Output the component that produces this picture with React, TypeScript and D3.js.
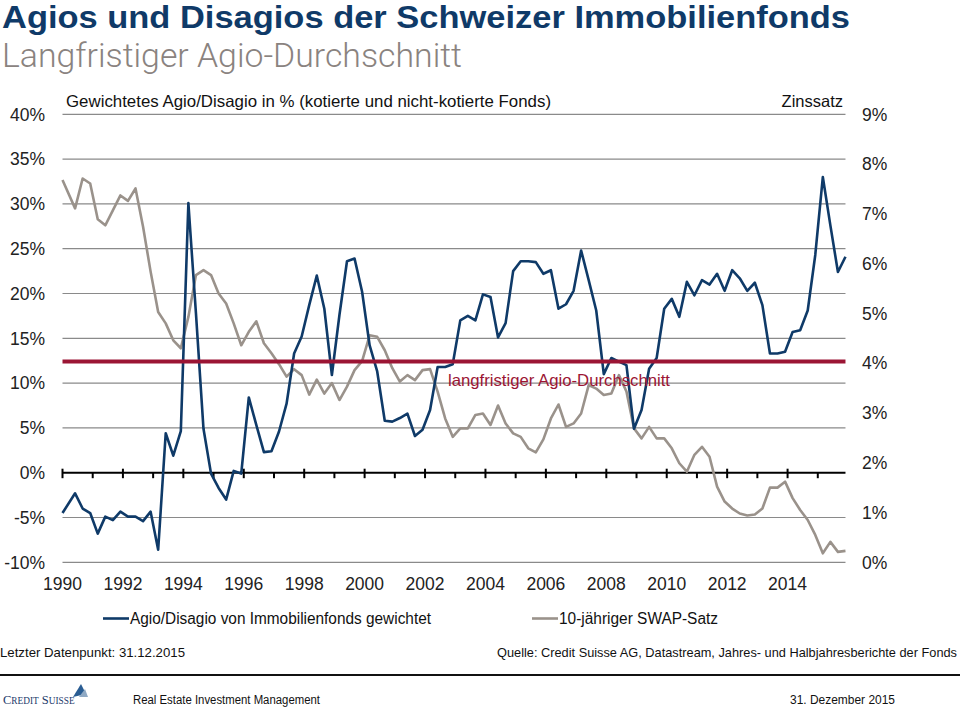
import React from "react";
import * as d3 from "d3";

// Weighted agio/disagio of Swiss real estate funds (% , left axis), quarterly
const agio: number[] = [
  -4.5, -2.3, -4.0, -4.5, -6.8, -4.9, -5.3, -4.35, -4.9, -4.9,
  -5.4, -4.35, -8.6, 4.4, 1.9, 4.65, 30.1, 17.8, 4.9, -0.1,
  -1.7, -3.0, 0.2, -0.1, 8.4, 5.3, 2.3, 2.4, 4.6, 7.7,
  13.3, 15.2, 18.7, 22.0, 18.3, 10.9, 17.6, 23.6, 23.9, 20.2,
  14.2, 11.3, 5.8, 5.7, 6.1, 6.6, 4.1, 4.8, 7.0, 11.8,
  11.8, 12.1, 17.0, 17.5, 17.0, 19.9, 19.6, 15.1, 16.7, 22.5,
  23.6, 23.6, 23.5, 22.2, 22.6, 18.3, 18.8, 20.3, 24.8, 21.5,
  18.1, 11.0, 12.8, 12.4, 12.0, 4.9, 7.0, 11.6, 12.8, 18.3,
  19.4, 17.4, 21.3, 19.8, 21.5, 21.0, 22.2, 20.3, 22.6, 21.7,
  20.3, 21.2, 18.7, 13.3, 13.3, 13.5, 15.7, 15.9, 18.1, 24.3,
  33.0, 27.6, 22.4, 24.1,
];

// 10-year CHF swap rate (% , right axis), quarterly
const swap: number[] = [
  7.68, 7.11, 7.71, 7.61, 6.89, 6.77, 7.07, 7.37, 7.26, 7.51,
  6.74, 5.84, 5.03, 4.80, 4.46, 4.30, 4.93, 5.77, 5.87, 5.77,
  5.40, 5.20, 4.80, 4.36, 4.63, 4.84, 4.40, 4.20, 3.98, 3.73,
  3.88, 3.76, 3.37, 3.67, 3.39, 3.60, 3.26, 3.53, 3.86, 4.04,
  4.56, 4.53, 4.26, 3.90, 3.63, 3.76, 3.66, 3.86, 3.88, 3.43,
  2.89, 2.52, 2.69, 2.69, 2.96, 2.99, 2.76, 3.15, 2.79, 2.59,
  2.52, 2.29, 2.21, 2.47, 2.89, 3.17, 2.72, 2.79, 2.99, 3.56,
  3.49, 3.36, 3.39, 3.76, 3.43, 2.69, 2.49, 2.72, 2.49, 2.49,
  2.29, 1.99, 1.82, 2.16, 2.32, 2.12, 1.52, 1.22, 1.08, 0.98,
  0.94, 0.96, 1.08, 1.50, 1.50, 1.62, 1.29, 1.05, 0.85, 0.55,
  0.18, 0.41, 0.21, 0.23,
];

const longTermAverage = 12.4;

const leftTicks: number[] = [-10, -5, 0, 5, 10, 15, 20, 25, 30, 35, 40];
const rightTicks: number[] = [0, 1, 2, 3, 4, 5, 6, 7, 8, 9];
const yearTicks: number[] = d3.range(1990, 2016);
const yearLabels: number[] = [1990, 1992, 1994, 1996, 1998, 2000, 2002, 2004, 2006, 2008, 2010, 2012, 2014];

const title = "Agios und Disagios der Schweizer Immobilienfonds";
const subtitle = "Langfristiger Agio-Durchschnitt";
const leftHeader = "Gewichtetes Agio/Disagio in % (kotierte und nicht-kotierte Fonds)";
const rightHeader = "Zinssatz";
const avgLabel = "langfristiger Agio-Durchschnitt";
const legendAgio = "Agio/Disagio von Immobilienfonds gewichtet";
const legendSwap = "10-jähriger SWAP-Satz";
const lastPoint = "Letzter Datenpunkt: 31.12.2015";
const source = "Quelle: Credit Suisse AG, Datastream, Jahres- und Halbjahresberichte der Fonds";
const footerMid = "Real Estate Investment Management";
const footerDate = "31. Dezember 2015";

// dates of observations (first at start of 1990, then quarterly)
const dates: number[] = agio.map((_, i) => (i === 0 ? 1990 : 1990 + 1 / 6 + 0.25 * i));

const NAVY = "#0f3a68";
const GRAY = "#9a928b";
const RED = "#9b1534";
const FONT = "'Liberation Sans', Arial, Helvetica, sans-serif";
const FIT = "spacingAndGlyphs";

export default function App() {
  const x = d3.scaleLinear().domain([1990, 2016]).range([62.5, 848]);
  const yL = d3.scaleLinear().domain([-10, 40]).range([562.3, 114.3]);
  const yR = d3.scaleLinear().domain([0, 9]).range([562.3, 114.3]);
  const x0 = x(1990);
  const x1 = x(dates[dates.length - 1]);

  const agioLine = d3
    .line<number>()
    .x((_, i) => x(dates[i]))
    .y((d) => yL(d));
  const swapLine = d3
    .line<number>()
    .x((_, i) => x(dates[i]))
    .y((d) => yR(d));

  return (
    <svg
      width={960}
      height={709}
      style={{ position: "absolute", left: 0, top: 0, background: "#fff" }}
      fontFamily={FONT}
    >
      <rect width={960} height={709} fill="#fff" />
      {/* Titles */}
      <text x={2} y={28} fontSize={31} fontWeight="bold" fill={NAVY} textLength={848} lengthAdjust={FIT}>
        {title}
      </text>
      <text
        x={2}
        y={67}
        fontSize={33}
        fill="#8a837f"
        fontFamily="Roboto, 'Liberation Sans', sans-serif"
        fontWeight={300}
        textLength={460}
        lengthAdjust={FIT}
      >
        {subtitle}
      </text>

      {/* Header texts */}
      <text x={66} y={107} fontSize={16.5} fill="#111" textLength={485} lengthAdjust={FIT}>
        {leftHeader}
      </text>
      <text x={843} y={107} fontSize={16.5} fill="#111" textAnchor="end">
        {rightHeader}
      </text>

      {/* gridlines */}
      {leftTicks.map((t) =>
        t === 0 ? null : (
          <line key={t} x1={x0} x2={x1} y1={yL(t)} y2={yL(t)} stroke="#8a8a8a" strokeWidth={1.2} />
        )
      )}

      {/* left axis labels */}
      {leftTicks.map((t) => (
        <text key={t} x={45} y={yL(t) + 6.3} fontSize={17.5} fill="#222" textAnchor="end">
          {`${t}%`}
        </text>
      ))}
      {/* right axis labels */}
      {rightTicks.map((t) => (
        <text key={t} x={862} y={yR(t) + 6.3} fontSize={17.5} fill="#222">
          {`${t}%`}
        </text>
      ))}

      {/* zero axis with ticks */}
      <line x1={x0} x2={x1} y1={yL(0)} y2={yL(0)} stroke="#000" strokeWidth={2} />
      {yearTicks.map((yr) => (
        <line
          key={yr}
          x1={x(yr)}
          x2={x(yr)}
          y1={yr % 2 === 0 ? yL(0) - 4 : yL(0)}
          y2={yL(0) + 5.5}
          stroke="#000"
          strokeWidth={2}
        />
      ))}

      {/* year labels */}
      {yearLabels.map((yr) => (
        <text key={yr} x={x(yr)} y={589.5} fontSize={17.5} fill="#222" textAnchor="middle">
          {yr}
        </text>
      ))}

      {/* series */}
      <path d={swapLine(swap) || ""} fill="none" stroke={GRAY} strokeWidth={2.6} strokeLinejoin="round" />
      <path d={agioLine(agio) || ""} fill="none" stroke={NAVY} strokeWidth={2.6} strokeLinejoin="round" />

      {/* long-term average */}
      <line x1={x0} x2={x1} y1={yL(longTermAverage)} y2={yL(longTermAverage)} stroke={RED} strokeWidth={4} />
      <text x={448} y={386} fontSize={16.5} fill={RED} textLength={222} lengthAdjust={FIT}>
        {avgLabel}
      </text>

      {/* legend */}
      <line x1={103} x2={129} y1={618.5} y2={618.5} stroke={NAVY} strokeWidth={2.6} />
      <text x={130} y={624.3} fontSize={16} fill="#111" textLength={301} lengthAdjust={FIT}>
        {legendAgio}
      </text>
      <line x1={532} x2={558} y1={618.5} y2={618.5} stroke={GRAY} strokeWidth={2.6} />
      <text x={559} y={624.3} fontSize={16} fill="#111" textLength={159} lengthAdjust={FIT}>
        {legendSwap}
      </text>

      {/* notes */}
      <text x={0} y={657} fontSize={13.5} fill="#111" textLength={185} lengthAdjust={FIT}>
        {lastPoint}
      </text>
      <text x={957} y={657} fontSize={12.6} fill="#111" textAnchor="end" textLength={460} lengthAdjust={FIT}>
        {source}
      </text>

      <line x1={0} x2={960} y1={675} y2={675} stroke="#111" strokeWidth={2} />

      {/* footer */}
      <text x={3} y={704} fontFamily="'Liberation Serif', 'DejaVu Serif', serif" fill="#1d3a6b">
        <tspan fontSize={12.5}>C</tspan>
        <tspan fontSize={9.3}>REDIT</tspan>
        <tspan fontSize={12.5}> S</tspan>
        <tspan fontSize={9.3}>UISSE</tspan>
      </text>
      <path d="M73,697 L81,684 L86,694 Z" fill="#2a5d93" />
      <path d="M79,697 L85,689 L88,697 Z" fill="#8fa9c4" />
      <text x={133} y={704} fontSize={12.5} fill="#111" textLength={187} lengthAdjust={FIT}>
        {footerMid}
      </text>
      <text x={790} y={704} fontSize={12.5} fill="#111" textLength={105} lengthAdjust={FIT}>
        {footerDate}
      </text>
    </svg>
  );
}
